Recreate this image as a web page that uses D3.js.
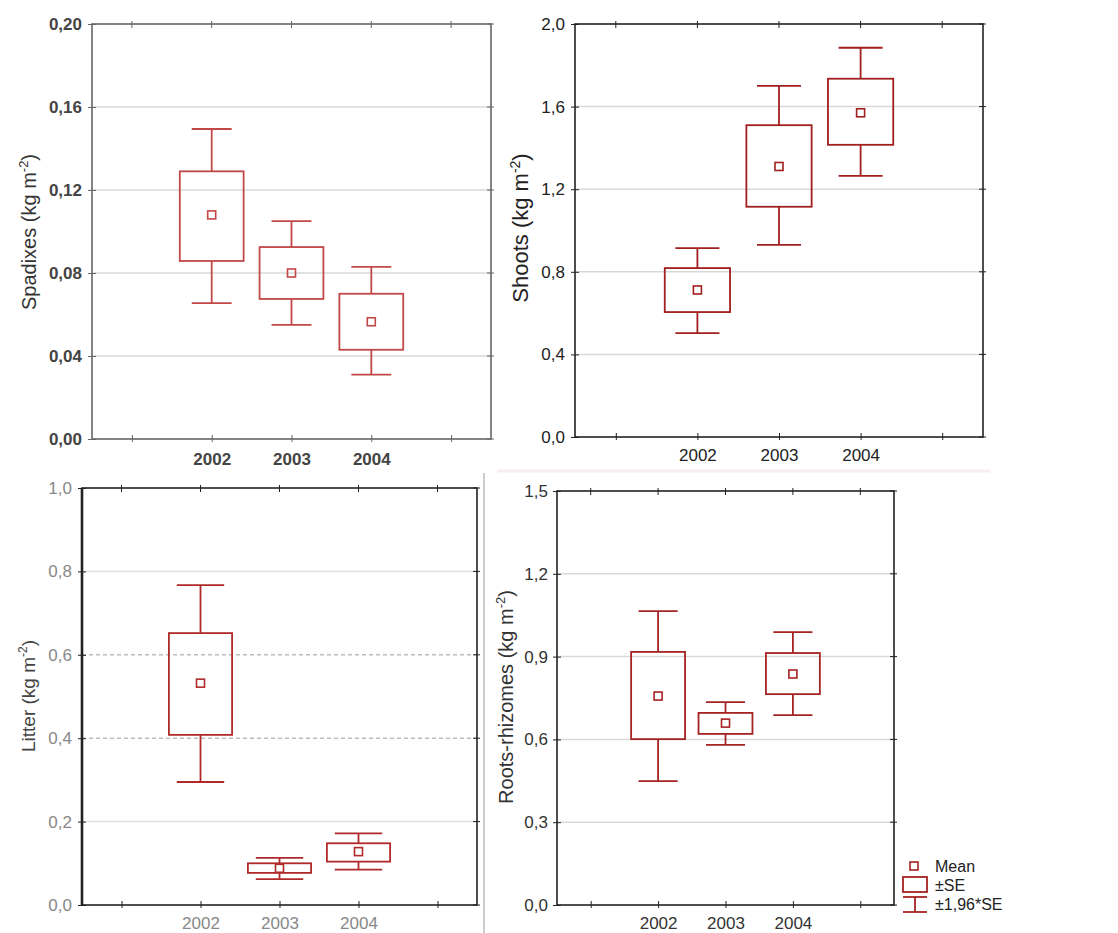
<!DOCTYPE html>
<html>
<head>
<meta charset="utf-8">
<script src="https://cdn.jsdelivr.net/npm/d3@7"></script>
<style>
  body { margin: 0; background: #fff; }
  svg { display: block; font-family: Arial, "Liberation Sans", sans-serif; }
</style>
</head>
<body>
<div id="chart"></div>
<script>
// categories
const years = ["2002", "2003", "2004"];

// each entry: mean, -SE, +SE, -1.96*SE, +1.96*SE  (kg m-2)
const spadixes = [
  { mean: 0.108, seLo: 0.0858, seHi: 0.129, ciLo: 0.0655, ciHi: 0.1494 },
  { mean: 0.080, seLo: 0.0675, seHi: 0.0925, ciLo: 0.055, ciHi: 0.105 },
  { mean: 0.0565, seLo: 0.043, seHi: 0.070, ciLo: 0.031, ciHi: 0.083 }
];
const shoots = [
  { mean: 0.712, seLo: 0.605, seHi: 0.818, ciLo: 0.503, ciHi: 0.915 },
  { mean: 1.31, seLo: 1.115, seHi: 1.51, ciLo: 0.93, ciHi: 1.70 },
  { mean: 1.57, seLo: 1.415, seHi: 1.735, ciLo: 1.265, ciHi: 1.885 }
];
const litter = [
  { mean: 0.532, seLo: 0.408, seHi: 0.652, ciLo: 0.295, ciHi: 0.767 },
  { mean: 0.088, seLo: 0.077, seHi: 0.100, ciLo: 0.062, ciHi: 0.113 },
  { mean: 0.128, seLo: 0.104, seHi: 0.148, ciLo: 0.085, ciHi: 0.172 }
];
const roots = [
  { mean: 0.757, seLo: 0.601, seHi: 0.917, ciLo: 0.449, ciHi: 1.065 },
  { mean: 0.659, seLo: 0.620, seHi: 0.696, ciLo: 0.580, ciHi: 0.735 },
  { mean: 0.837, seLo: 0.764, seHi: 0.913, ciLo: 0.688, ciHi: 0.989 }
];

// y tick labels
const spadixesTicks = [0, 0.04, 0.08, 0.12, 0.16, 0.20];
const shootsTicks = [0, 0.4, 0.8, 1.2, 1.6, 2.0];
const litterTicks = [0, 0.2, 0.4, 0.6, 0.8, 1.0];
const rootsTicks = [0, 0.3, 0.6, 0.9, 1.2, 1.5];

const legendItems = ["Mean", "±SE", "±1,96*SE"];

const width = 1118, height = 933;
const svg = d3.select("#chart").append("svg")
  .attr("width", width).attr("height", height);

// faint separators from the scanned figure
svg.append("line").attr("x1", 497).attr("x2", 990).attr("y1", 471).attr("y2", 471)
  .attr("stroke", "#f7eef1").attr("stroke-width", 3);
svg.append("line").attr("x1", 484).attr("x2", 484).attr("y1", 473).attr("y2", 933)
  .attr("stroke", "#9a9a9a").attr("stroke-width", 1);

function panel(o) {
  const g = svg.append("g");
  const x = d3.scaleLinear().domain([0.5, 5.5]).range([o.left, o.right]);
  const y = d3.scaleLinear().domain([0, o.ticks[o.ticks.length - 1]]).range([o.bottom, o.top]);
  const step = x(2) - x(1);
  const fmt = v => d3.format(o.fmt)(v).replace(".", ",");

  // grid
  g.append("g").selectAll("line")
    .data(o.ticks.slice(1, -1))
    .join("line")
      .attr("x1", o.left).attr("x2", o.right)
      .attr("y1", d => y(d)).attr("y2", d => y(d))
      .attr("stroke", d => o.gridDash && (d === 0.4 || d === 0.6) ? "#bdbdbd" : o.gridColor)
      .attr("stroke-width", o.gridWidth)
      .attr("stroke-dasharray", d => o.gridDash && (d === 0.4 || d === 0.6) ? o.gridDash : null);

  // y axis left, with labels
  const yAxis = d3.axisLeft(y).tickValues(o.ticks).tickFormat(fmt).tickSize(4).tickPadding(7);
  const ga = g.append("g").attr("transform", `translate(${o.left},0)`).call(yAxis);
  ga.select(".domain").remove();
  ga.selectAll(".tick line").attr("stroke", o.frameColor).attr("x2", 4).attr("x1", -4);
  ga.selectAll(".tick text")
    .attr("x", -(o.left - o.labelRight))
    .style("font-size", "17px")
    .style("font-weight", o.bold ? "bold" : "normal")
    .attr("fill", o.textColor);

  // right side ticks
  g.append("g").selectAll("line").data(o.ticks).join("line")
    .attr("x1", o.right - 4).attr("x2", o.right + 3)
    .attr("y1", d => y(d)).attr("y2", d => y(d))
    .attr("stroke", o.frameColor);

  // x axis
  const xAxis = d3.axisBottom(x).tickValues([1, 2, 3, 4, 5])
    .tickFormat(d => years[d - 2] || "").tickSize(4).tickPadding(10);
  const gx = g.append("g").attr("transform", `translate(0,${o.bottom})`).call(xAxis);
  gx.select(".domain").remove();
  gx.selectAll(".tick line").attr("stroke", o.frameColor).attr("y1", -4).attr("y2", 3);
  gx.selectAll(".tick text")
    .attr("y", o.xLabelY - o.bottom).attr("dy", null)
    .style("font-size", "17px")
    .style("font-weight", o.bold ? "bold" : "normal")
    .attr("fill", o.textColor);

  g.append("g").selectAll("line").data([1, 2, 3, 4, 5]).join("line")
    .attr("x1", d => x(d)).attr("x2", d => x(d))
    .attr("y1", o.top - 3).attr("y2", o.top + 4)
    .attr("stroke", o.frameColor);

  // frame
  g.append("rect")
    .attr("x", o.left).attr("y", o.top)
    .attr("width", o.right - o.left).attr("height", o.bottom - o.top)
    .attr("fill", "none").attr("stroke", o.frameColor).attr("stroke-width", 1.6);
  if (o.thickLeft) {
    g.append("line").attr("x1", o.left).attr("x2", o.left)
      .attr("y1", o.top).attr("y2", o.bottom)
      .attr("stroke", o.frameColor).attr("stroke-width", 2.6);
  }

  // y title
  const t = g.append("text")
    .attr("transform", `translate(${o.titleX},${o.titleY}) rotate(-90)`)
    .attr("text-anchor", "middle")
    .style("font-size", o.titleSize + "px")
    .attr("fill", o.titleColor);
  t.append("tspan").text(o.title + " (kg m");
  t.append("tspan").attr("dy", -8).style("font-size", Math.round(o.titleSize * 0.65) + "px").text("-2");
  t.append("tspan").attr("dy", 8).text(")");

  // boxes and whiskers
  const bw = step * 0.8, cw = step * o.cap;
  const items = g.append("g").selectAll("g").data(o.data).join("g")
    .attr("transform", (d, i) => `translate(${x(i + 2)},0)`)
    .attr("stroke", o.color).attr("stroke-width", 1.8).attr("fill", "none");

  items.append("line").attr("y1", d => y(d.ciHi)).attr("y2", d => y(d.seHi));
  items.append("line").attr("y1", d => y(d.seLo)).attr("y2", d => y(d.ciLo));
  items.append("line").attr("x1", -cw / 2).attr("x2", cw / 2)
    .attr("y1", d => y(d.ciHi)).attr("y2", d => y(d.ciHi));
  items.append("line").attr("x1", -cw / 2).attr("x2", cw / 2)
    .attr("y1", d => y(d.ciLo)).attr("y2", d => y(d.ciLo));
  items.append("rect")
    .attr("x", -bw / 2).attr("width", bw)
    .attr("y", d => y(d.seHi)).attr("height", d => y(d.seLo) - y(d.seHi));
  items.append("rect")
    .attr("x", -4).attr("width", 8)
    .attr("y", d => y(d.mean) - 4).attr("height", 8)
    .attr("stroke-width", 1.6);
}

panel({
  data: spadixes, ticks: spadixesTicks, fmt: ".2f", title: "Spadixes",
  left: 92, right: 491, top: 24, bottom: 439, labelRight: 82, xLabelY: 465,
  titleX: 36, titleY: 232, titleSize: 20, color: "#c24848", frameColor: "#666", textColor: "#444",
  titleColor: "#333", gridColor: "#e2e2e2", gridWidth: 2, gridDash: null, bold: true, cap: 0.5
});
panel({
  data: shoots, ticks: shootsTicks, fmt: ".1f", title: "Shoots",
  left: 575, right: 983, top: 24, bottom: 437, labelRight: 565, xLabelY: 461,
  titleX: 528, titleY: 228, titleSize: 22, color: "#a11f1f", frameColor: "#222", textColor: "#222",
  titleColor: "#222", gridColor: "#d9d9d9", gridWidth: 1.5, gridDash: null, bold: false, cap: 0.54
});
panel({
  data: litter, ticks: litterTicks, fmt: ".1f", title: "Litter",
  left: 82, right: 477, top: 488, bottom: 905, labelRight: 72, xLabelY: 929,
  titleX: 35, titleY: 696, titleSize: 19, color: "#b02a2a", frameColor: "#222", textColor: "#888",
  titleColor: "#444", gridColor: "#e0e0e0", gridWidth: 1.5, gridDash: "4,3", bold: false, cap: 0.6,
  thickLeft: true
});
panel({
  data: roots, ticks: rootsTicks, fmt: ".1f", title: "Roots-rhizomes",
  left: 557, right: 894, top: 491, bottom: 905, labelRight: 548, xLabelY: 929,
  titleX: 513, titleY: 697, titleSize: 20, color: "#a52323", frameColor: "#222", textColor: "#333",
  titleColor: "#333", gridColor: "#d9d9d9", gridWidth: 1.5, gridDash: null, bold: false, cap: 0.58
});

// legend
const lg = svg.append("g").attr("stroke", "#a52323").attr("stroke-width", 1.8).attr("fill", "none");
lg.append("rect").attr("x", 910).attr("y", 862).attr("width", 8).attr("height", 8).attr("stroke-width", 1.6);
lg.append("rect").attr("x", 903).attr("y", 877).attr("width", 24).attr("height", 15);
lg.append("line").attr("x1", 903).attr("x2", 927).attr("y1", 897).attr("y2", 897);
lg.append("line").attr("x1", 915).attr("x2", 915).attr("y1", 897).attr("y2", 912);
lg.append("line").attr("x1", 903).attr("x2", 927).attr("y1", 912).attr("y2", 912);

svg.append("g").selectAll("text").data(legendItems).join("text")
  .attr("x", 935).attr("y", (d, i) => 872 + i * 19)
  .style("font-size", "16px").attr("fill", "#222")
  .text(d => d);
</script>
</body>
</html>
